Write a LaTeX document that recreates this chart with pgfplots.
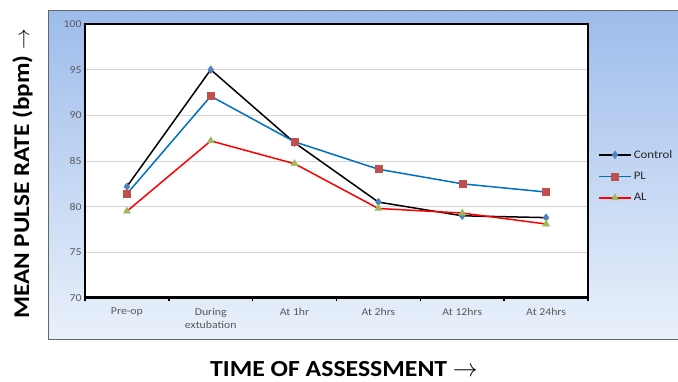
\documentclass[border=0pt]{standalone}
\usepackage{fontspec}
\setmainfont{Carlito}
\newfontfamily\widefont{Carlito}[FakeStretch=1.12]
\usepackage{pgfplots}
\pgfplotsset{compat=1.18}
\definecolor{ctrlmark}{HTML}{4F81BD}
\definecolor{plline}{HTML}{0070C0}
\definecolor{plmark}{HTML}{C0504D}
\definecolor{almark}{HTML}{9BBB59}
\definecolor{bgtop}{HTML}{9DBCEB}
\definecolor{bgbot}{HTML}{EAF1FB}
\definecolor{ticktext}{HTML}{595959}
\begin{document}
\begin{tikzpicture}[x=1pt,y=1pt]
\useasboundingbox (0,0) rectangle (678,382);
\shade[top color=bgtop, bottom color=bgbot] (48,42) rectangle (678,371);
\draw[gray!80!black, line width=1pt] (48,42) rectangle (678,371);
\begin{axis}[
  at={(85pt,84pt)}, anchor=south west,
  scale only axis, width=503pt, height=274pt,
  xmin=-0.5, xmax=5.5, ymin=70, ymax=100,
  xtick={-0.5,0.5,1.5,2.5,3.5,4.5,5.5},
  x tick label as interval,
  xticklabels={Pre-op,{During\\extubation},At 1hr,At 2hrs,At 12hrs,At 24hrs},
  xticklabel style={align=center, font=\widefont\fontsize{10.5}{13}\selectfont, text=ticktext, yshift=-3pt},
  x tick style={draw=black, line width=1.5pt},
  xtick pos=bottom, xtick align=outside, major tick length=3.5pt,
  ytick={70,75,80,85,90,95,100},
  yticklabel style={font=\widefont\fontsize{10.5}{13}\selectfont, text=ticktext},
  /pgf/number format/assume math mode=true,
  y tick style={draw=none},
  ymajorgrids, grid style={draw=black!17, line width=0.9pt},
  axis line style={line width=1.5pt},
  axis background/.style={fill=white},
  legend style={at={(1.02,0.555)}, anchor=north west, draw=none, fill=none,
    font=\widefont\fontsize{11.5}{13}\selectfont, row sep=8.5pt, text=black!85,
    inner xsep=0pt},
  legend cell align=left,
  legend image code/.code={\draw[mark repeat=2,mark phase=2] plot coordinates {(0pt,0pt)(16pt,0pt)(32pt,0pt)};},
  legend image post style={line width=1.5pt},
  clip=false,
]
\draw[black, line width=3pt] (rel axis cs:0,0) -- (rel axis cs:1,0);
\draw[black, line width=2.2pt] (rel axis cs:0,0) -- (rel axis cs:0,1);
\addplot[black, line width=1.5pt, mark=diamond*, mark size=3.8pt, mark options={fill=ctrlmark, draw=ctrlmark, line width=0.5pt}]
 coordinates {(0,82.2) (1,95.0) (2,87.0) (3,80.5) (4,79.0) (5,78.8)};
\addlegendentry{Control}
\addplot[plline, line width=1.5pt, mark=square*, mark size=3.5pt, mark options={fill=plmark, draw=plmark, line width=0.5pt}]
 coordinates {(0,81.4) (1,92.1) (2,87.1) (3,84.1) (4,82.5) (5,81.6)};
\addlegendentry{PL}
\addplot[red, line width=1.5pt, mark=triangle*, mark size=4pt, mark options={fill=almark, draw=almark, line width=0.5pt}]
 coordinates {(0,79.5) (1,87.2) (2,84.7) (3,79.8) (4,79.3) (5,78.1)};
\addlegendentry{AL}
\end{axis}
\node[anchor=base, font=\widefont\bfseries\fontsize{23}{25}\selectfont, inner sep=0pt] at (344,5) {TIME OF ASSESSMENT $\rightarrow$};
\node[anchor=base, font=\widefont\bfseries\fontsize{22.5}{24}\selectfont, rotate=90, inner sep=0pt] at (29,208) {MEAN PULSE RATE (bpm) $\rightarrow$};
\end{tikzpicture}
\end{document}
